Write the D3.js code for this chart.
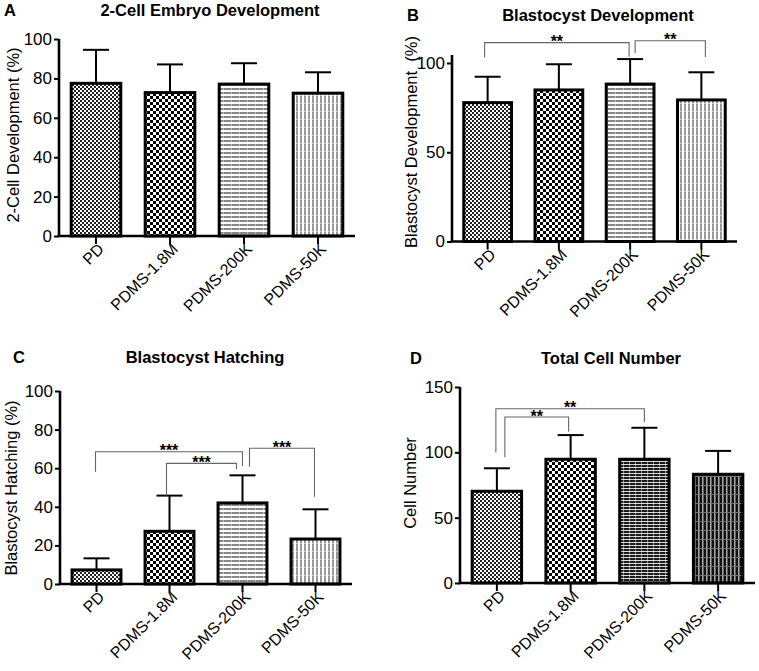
<!DOCTYPE html>
<html><head><meta charset="utf-8">
<script src="https://cdn.jsdelivr.net/npm/d3@7"></script>
<style>
html,body{margin:0;padding:0;background:#fff;}
svg{display:block;font-family:"Liberation Sans",Arial,Helvetica,sans-serif;}
</style></head>
<body><svg id="chart" width="759" height="671"></svg>
<script>
// ---------- data ----------
const categories = ["PD", "PDMS-1.8M", "PDMS-200K", "PDMS-50K"];

const meansA = [77.5, 72.8, 77.1, 72.5];
const errA   = [17.0, 14.3, 10.6, 10.6];
const meansB = [77.8, 84.9, 88.2, 79.3];
const errB   = [14.5, 14.4, 14.0, 15.5];
const meansC = [7.3, 27.3, 42.0, 23.3];
const errC   = [6.0, 18.5, 14.3, 15.4];
const meansD = [70.2, 94.7, 94.7, 83.2];
const errD   = [17.6, 18.5, 24.1, 17.9];

const ticksA = [0, 20, 40, 60, 80, 100];
const ticksB = [0, 50, 100];
const ticksC = [0, 20, 40, 60, 80, 100];
const ticksD = [0, 50, 100, 150];

const titles  = ["2-Cell Embryo Development", "Blastocyst Development", "Blastocyst Hatching", "Total Cell Number"];
const letters = ["A", "B", "C", "D"];
const yLabels = ["2-Cell Development (%)", "Blastocyst Development  (%)", "Blastocyst Hatching (%)", "Cell Number"];

// significance brackets: [from, to, top value, left leg end, right leg end, label]
const bracketsA = [];
const bracketsB = [["PD", "PDMS-200K", 111.4, 103.2, 103.5, "**"],
                   ["PDMS-200K", "PDMS-50K", 112.5, 105.6, 103.4, "**"]];
const bracketsC = [["PD", "PDMS-200K", 68.5, 58.2, 61.1, "***"],
                   ["PDMS-1.8M", "PDMS-200K", 62.5, 45.8, 59.4, "***"],
                   ["PDMS-200K", "PDMS-50K", 70.3, 60.8, 45.2, "***"]];
const bracketsD = [["PD", "PDMS-200K", 133.3, 99.8, 123.1, "**"],
                   ["PD", "PDMS-1.8M", 127.0, 96.3, 115.7, "**"]];

// ---------- layout (pixels) ----------
const panels = [
  {means: meansA, err: errA, ticks: ticksA, brackets: bracketsA,
   x0: 59, x1: 355, y0: 236, yAt: 39, yVal: 100, axisTop: 100,
   titleX: 210, titleY: 16, letterX: 4, letterY: 16, labX: 13, labY: 135, dx: []},
  {means: meansB, err: errB, ticks: ticksB, brackets: bracketsB,
   x0: 452, x1: 737, y0: 241.5, yAt: 63, yVal: 100, axisTop: 104.5,
   titleX: 598, titleY: 21, letterX: 407, letterY: 21, labX: 411, labY: 142, dx: [[-3, -1], [5, 4]]},
  {means: meansC, err: errC, ticks: ticksC, brackets: bracketsC,
   x0: 60, x1: 352, y0: 584, yAt: 391, yVal: 100, axisTop: 100,
   titleX: 205, titleY: 363, letterX: 13, letterY: 363, labX: 11, labY: 488, dx: [[-1, 0], [-3, -6], [7, -1]]},
  {means: meansD, err: errD, ticks: ticksD, brackets: bracketsD,
   x0: 460, x1: 755, y0: 583, yAt: 387, yVal: 150, axisTop: 150,
   titleX: 611, titleY: 364, letterX: 410, letterY: 364, labX: 410, labY: 483, dx: [[-1, 0], [8, -2]]}
];

const svg = d3.select("#chart");
const defs = svg.append("defs");

function pat(id, w, h, build) {
  const p = defs.append("pattern").attr("id", id).attr("patternUnits", "userSpaceOnUse")
    .attr("width", w).attr("height", h);
  build(p);
}
pat("fineCheck", 4, 4, p => {
  p.append("rect").attr("width", 4).attr("height", 4).attr("fill", "#fff");
  p.append("rect").attr("width", 2).attr("height", 2).attr("fill", "#222");
  p.append("rect").attr("x", 2).attr("y", 2).attr("width", 2).attr("height", 2).attr("fill", "#222");
});
pat("coarseCheck", 6, 6, p => {
  p.append("rect").attr("width", 6).attr("height", 6).attr("fill", "#fff");
  p.append("rect").attr("width", 3).attr("height", 3).attr("fill", "#000");
  p.append("rect").attr("x", 3).attr("y", 3).attr("width", 3).attr("height", 3).attr("fill", "#000");
});
pat("hLines", 8, 4, p => {
  p.append("rect").attr("width", 8).attr("height", 4).attr("fill", "#fff");
  p.append("rect").attr("y", 0).attr("width", 8).attr("height", 2).attr("fill", "#888");
  p.append("rect").attr("x", 7).attr("width", 1).attr("height", 2).attr("fill", "#bbb");
});
pat("vLines", 4, 8, p => {
  p.append("rect").attr("width", 4).attr("height", 8).attr("fill", "#fff");
  p.append("rect").attr("x", 0).attr("width", 2).attr("height", 8).attr("fill", "#999");
  p.append("rect").attr("y", 7).attr("width", 2).attr("height", 1).attr("fill", "#ccc");
});
pat("hLinesDark", 6, 3, p => {
  p.append("rect").attr("width", 6).attr("height", 3).attr("fill", "#1a1a1a");
  p.append("rect").attr("y", 2).attr("width", 6).attr("height", 1).attr("fill", "#ddd");
  p.append("rect").attr("x", 5).attr("width", 1).attr("height", 2).attr("fill", "#888");
});
pat("vLinesDark", 4, 9, p => {
  p.append("rect").attr("width", 4).attr("height", 9).attr("fill", "#111");
  p.append("rect").attr("x", 2).attr("width", 1.5).attr("height", 9).attr("fill", "#aaa");
  p.append("rect").attr("y", 8).attr("width", 4).attr("height", 1).attr("fill", "#777");
});

const fillsLight = ["url(#fineCheck)", "url(#coarseCheck)", "url(#hLines)", "url(#vLines)"];
const fillsDark  = ["url(#fineCheck)", "url(#coarseCheck)", "url(#hLinesDark)", "url(#vLinesDark)"];

const FONT = "Liberation Sans, Arial, sans-serif";

panels.forEach((P, pi) => {
  const g = svg.append("g");
  const x = d3.scaleBand().domain(categories).range([P.x0, P.x1]).paddingInner(0.33).paddingOuter(0.165);
  const y = d3.scaleLinear().domain([0, P.yVal]).range([P.y0, P.yAt]);
  const fills = pi === 3 ? fillsDark : fillsLight;

  // error bars (upper only)
  const capW = 26;
  categories.forEach((c, i) => {
    const cx = x(c) + x.bandwidth() / 2;
    const top = y(P.means[i] + P.err[i]);
    g.append("line").attr("x1", cx).attr("x2", cx).attr("y1", y(P.means[i])).attr("y2", top)
      .attr("stroke", "#000").attr("stroke-width", 2);
    g.append("line").attr("x1", cx - capW / 2).attr("x2", cx + capW / 2).attr("y1", top).attr("y2", top)
      .attr("stroke", "#000").attr("stroke-width", 2);
  });

  // bars
  g.selectAll("rect.bar").data(categories).enter().append("rect").attr("class", "bar")
    .attr("x", d => x(d)).attr("width", x.bandwidth())
    .attr("y", (d, i) => y(P.means[i])).attr("height", (d, i) => y(0) - y(P.means[i]))
    .attr("fill", (d, i) => fills[i]).attr("stroke", "#000").attr("stroke-width", 3);

  // y axis
  const yAxis = d3.axisLeft(y).tickValues(P.ticks).tickSize(5).tickPadding(2).tickFormat(d3.format("d"));
  const ya = g.append("g").attr("transform", `translate(${P.x0},0)`).call(yAxis);
  ya.attr("font-size", null).attr("font-family", null);
  ya.select(".domain").remove();
  ya.append("line").attr("x1", 0).attr("x2", 0).attr("y1", y(0)).attr("y2", y(P.axisTop))
    .attr("stroke", "#000").attr("stroke-width", 2.6);
  ya.selectAll(".tick line").attr("stroke", "#000").attr("stroke-width", 2);
  ya.selectAll(".tick text").style("font-size", "17px").attr("fill", "#000")
    .style("font-family", FONT);

  // x axis
  const xAxis = d3.axisBottom(x).tickSize(8).tickPadding(3);
  const xa = g.append("g").attr("transform", `translate(0,${P.y0})`).call(xAxis);
  xa.attr("font-size", null).attr("font-family", null);
  xa.select(".domain").remove();
  xa.append("line").attr("x1", P.x0 - 1.3).attr("x2", P.x1).attr("y1", 0).attr("y2", 0)
    .attr("stroke", "#000").attr("stroke-width", 2.6);
  xa.selectAll(".tick line").attr("stroke", "#000").attr("stroke-width", 2);
  xa.selectAll(".tick text").style("font-size", "16px").attr("fill", "#000")
    .style("font-family", FONT)
    .attr("text-anchor", "end").attr("dy", "0.35em")
    .attr("transform", "translate(5,10) rotate(-45)").attr("y", 0).attr("x", 0);

  // brackets
  P.brackets.forEach((b, bi) => {
    const d = P.dx[bi] || [0, 0];
    const xl = x(b[0]) + x.bandwidth() / 2 + d[0];
    const xr = x(b[1]) + x.bandwidth() / 2 + d[1];
    const yt = y(b[2]);
    g.append("path")
      .attr("d", `M${xl},${y(b[3])}V${yt}H${xr}V${y(b[4])}`)
      .attr("fill", "none").attr("stroke", "#666").attr("stroke-width", 1.1);
    g.append("text").attr("x", (xl + xr) / 2).attr("y", yt + 4.5)
      .attr("text-anchor", "middle").style("font-size", "16px").attr("font-weight", "bold")
      .text(b[5]);
  });

  // titles
  g.append("text").attr("x", P.titleX).attr("y", P.titleY).attr("text-anchor", "middle")
    .style("font-size", "16.5px").attr("font-weight", "bold").text(titles[pi]);
  g.append("text").attr("x", P.letterX).attr("y", P.letterY)
    .style("font-size", "16.5px").attr("font-weight", "bold").text(letters[pi]);
  g.append("text").attr("transform", `translate(${P.labX},${P.labY}) rotate(-90)`)
    .attr("text-anchor", "middle").attr("dy", "0.35em").style("font-size", "16.5px")
    .style("white-space", "pre").text(yLabels[pi]);
});
</script></body></html>
